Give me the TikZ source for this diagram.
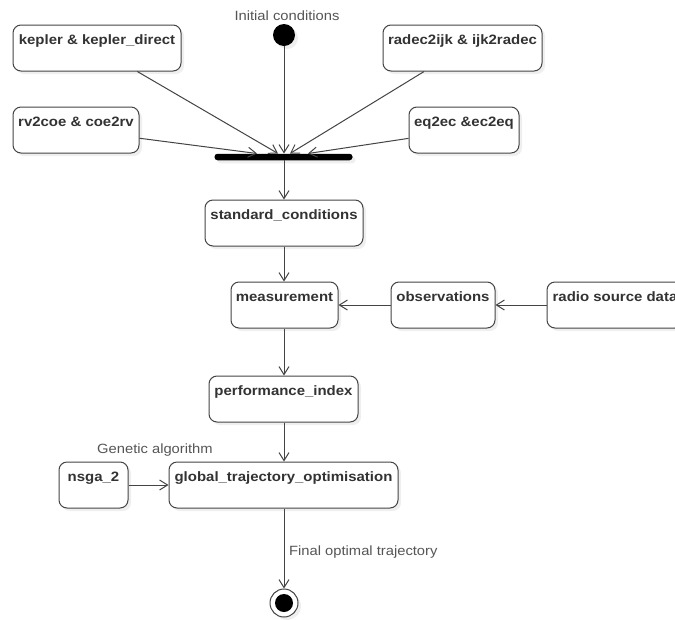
\documentclass[tikz,border=0pt]{standalone}
\usepackage{fontspec}
\setmainfont{Liberation Sans}
\newfontfamily\boxfont[FakeStretch=1.1]{Liberation Sans}
\usetikzlibrary{arrows.meta,shadows,calc}
\definecolor{txt}{HTML}{333333}
\definecolor{edge}{HTML}{444444}
\definecolor{lbl}{HTML}{555555}
\tikzset{
  box/.style={draw=edge, line width=1pt, rounded corners=8pt, fill=white,
    drop shadow={shadow xshift=3pt, shadow yshift=-3pt, opacity=0.12},
    minimum height=46pt, inner xsep=0pt, inner ysep=4pt,
    text height=15pt, text depth=23pt, text=txt,
    font=\boxfont\bfseries\fontsize{13.6pt}{15pt}\selectfont},
  lab/.style={text=lbl, inner sep=0pt, font=\boxfont\fontsize{13.4pt}{15pt}\selectfont},
  flow/.style={draw=edge, line width=1pt, -{Straight Barb[length=8pt,width=10pt]}},
}
\begin{document}
\begin{tikzpicture}[x=1pt,y=-1pt]
\clip (0,0) rectangle (675,619);
\fill[white] (0,0) rectangle (675,619);
% start node
\node[circle, fill=black, minimum size=22pt, inner sep=0pt,
  drop shadow={shadow xshift=3pt, shadow yshift=-3pt, opacity=0.12}] (init) at (284,35) {};
\node[lab, anchor=base] (initlbl) at (287,20) {Initial conditions};
% fork bar
\node[fill=black, rounded corners=3pt, minimum width=138pt, minimum height=6.5pt, inner sep=0pt,
  drop shadow={shadow xshift=3pt, shadow yshift=-3pt, opacity=0.12}] (bar) at (283.5,157) {};
% boxes
\node[box, minimum width=168pt] (kepler) at (97,48) {kepler \& kepler\_direct};
\node[box, minimum width=126pt] (rv2coe) at (76,130) {rv2coe \& coe2rv};
\node[box, minimum width=159pt] (radec) at (462.5,48) {radec2ijk \& ijk2radec};
\node[box, minimum width=110pt] (eq2ec) at (464,130) {eq2ec \&ec2eq};
\node[box, minimum width=158pt] (std) at (284,223) {standard\_conditions};
\node[box, minimum width=107pt] (meas) at (284.5,305) {measurement};
\node[box, minimum width=104pt] (obs) at (443,305) {observations};
\node[box, minimum width=136pt] (radio) at (615,305) {radio source data};
\node[box, minimum width=149pt] (perf) at (283.5,399) {performance\_index};
\node[box, minimum width=229pt] (glob) at (283.5,485) {global\_trajectory\_optimisation};
\node[box, minimum width=69pt] (nsga) at (93.5,485) {nsga\_2};
\node[lab, anchor=base west] (galbl) at (97,453) {Genetic algorithm};
% end node
\node[circle, draw=edge, line width=1pt, fill=white, minimum size=28pt, inner sep=0pt,
  drop shadow={shadow xshift=3pt, shadow yshift=-3pt, opacity=0.12}] (final) at (284,603) {};
\node[circle, fill=black, minimum size=18pt, inner sep=0pt] (finaldot) at (284,603) {};
\node[lab, anchor=base west] (ftlbl) at (289,555) {Final optimal trajectory};
% bar entry points
\coordinate (b1) at (257,153.5);
\coordinate (b2) at (278,153.5);
\coordinate (b3) at (284,153.5);
\coordinate (b4) at (290,153.5);
\coordinate (b5) at (308,153.5);
% connectors
\draw[flow] (kepler) -- (b2);
\draw[flow] (rv2coe) -- (b1);
\draw[flow] (init) -- (b3);
\draw[flow] (radec) -- (b4);
\draw[flow] (eq2ec) -- (b5);
\draw[flow] (bar.south -| std.north) -- (std.north);
\draw[flow] (std) -- (std |- meas.north);
\draw[flow] (radio) -- (obs);
\draw[flow] (obs) -- (meas);
\draw[flow] (meas.south -| std.south) -- (perf.north -| std.south);
\draw[flow] (perf.south -| std.south) -- (glob.north -| std.south);
\draw[flow] (nsga) -- (glob);
\draw[flow] (glob.south -| std.south) -- (final.north);
\end{tikzpicture}
\end{document}
